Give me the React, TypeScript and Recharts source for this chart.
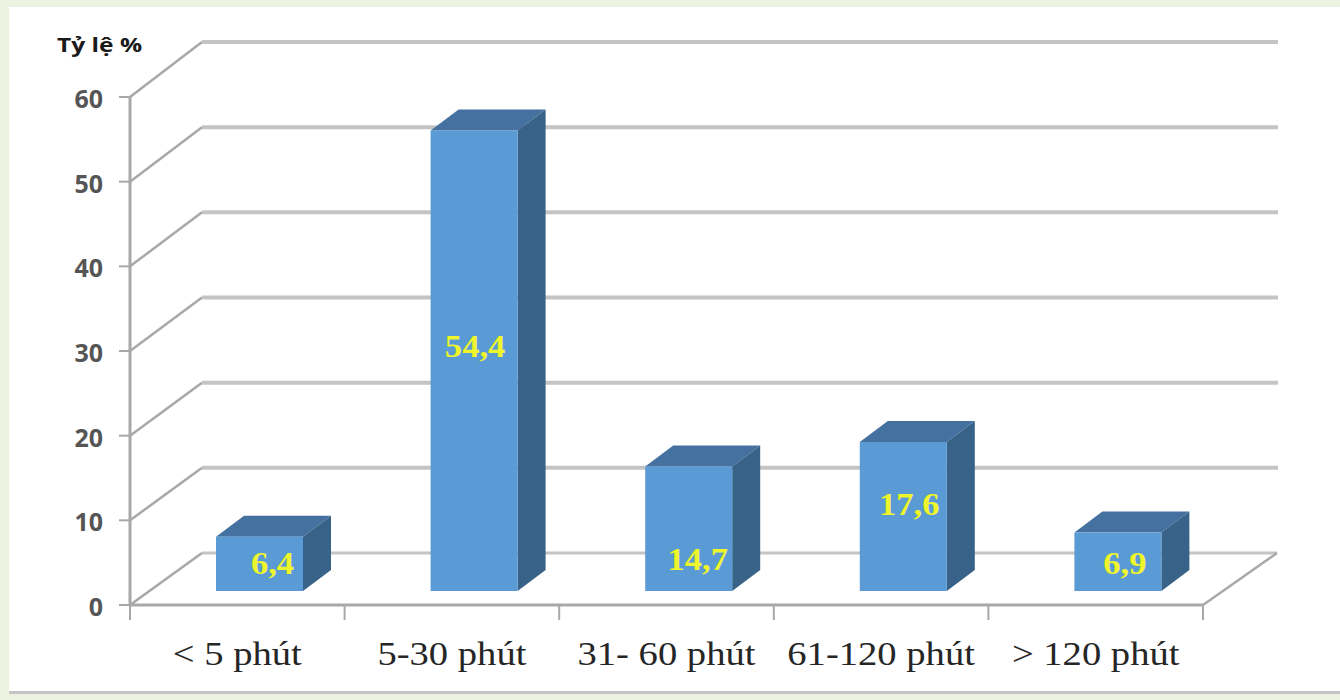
import { BarChart, Bar, CartesianGrid, LabelList, XAxis, YAxis } from 'recharts';

const categories = ['< 5 phút', '5-30 phút', '31- 60 phút', '61-120 phút', '> 120 phút'];
const shares = [6.4, 54.4, 14.7, 17.6, 6.9];
const yTicks = [0, 10, 20, 30, 40, 50, 60];

const rows = categories.map((name, i) => ({ name, share: shares[i] }));

// the labels were hand-placed on the bars, so each one has its own nudge
const labelNudge = [
    { dx: 13, dy: -1 },
    { dx: 1, dy: -15 },
    { dx: 9, dy: 30 },
    { dx: 6, dy: -13 },
    { dx: 7, dy: 1 },
];

const WIDTH = 1340;
const HEIGHT = 700;
const LEFT = 130;
const RIGHT = 1203;
const TOP = 97;
const BOTTOM = 605;
const BAND = (RIGHT - LEFT) / categories.length;

// fake perspective: back wall offset, and the box depth
const WALL_DX = 72;
const WALL_DY = -55;
const WALL_STRETCH = 3 / (BOTTOM - TOP);
const DEPTH_DX = 28;
const DEPTH_DY = -21;
// bars stand partway into the floor
const FLOOR_DX = 22;
const FLOOR_DY = -14;

const GRID = '#c4c4c4';
const AXIS = '#a8a8a8';
const SERIF = 'Liberation Serif';
const SANS = 'Open Sans';

const WallLine = (props: any) => {
    const { x1, x2, y1 } = props;
    const y = y1 + WALL_DY + (y1 - TOP) * WALL_STRETCH;
    const isFloor = Math.abs(y1 - BOTTOM) < 1;
    return (
        <g key={props.key}>
            <line x1={x1} y1={y1} x2={x1 + WALL_DX} y2={y} stroke={AXIS} strokeWidth={2.5} />
            <line x1={x1 + WALL_DX} y1={y} x2={x2 + WALL_DX + (isFloor ? 2 : 3)} y2={y} stroke={GRID} strokeWidth={isFloor ? 3 : 4} />
            {isFloor && <line x1={x2} y1={y1} x2={x2 + WALL_DX + 2} y2={y} stroke={AXIS} strokeWidth={2.5} />}
        </g>
    );
};

const Box = (props: any) => {
    const { x, y, width, height } = props;
    const l = x + FLOOR_DX;
    const r = l + width;
    const t = y + FLOOR_DY;
    const b = t + height;
    return (
        <g>
            <polygon points={`${l},${t} ${l + DEPTH_DX},${t + DEPTH_DY} ${r + DEPTH_DX},${t + DEPTH_DY} ${r},${t}`} fill="#44719f" />
            <polygon points={`${r},${t} ${r + DEPTH_DX},${t + DEPTH_DY} ${r + DEPTH_DX},${b + DEPTH_DY} ${r},${b}`} fill="#386288" />
            <rect x={l} y={t} width={width} height={height} fill="#5b9bd5" />
        </g>
    );
};

const ValueLabel = (props: any) => {
    const { x, y, width, height, value, index } = props;
    const nudge = labelNudge[index];
    const cx = x + FLOOR_DX + width / 2 + nudge.dx;
    const cy = y + FLOOR_DY + height / 2 + nudge.dy;
    return (
        <text
            transform={`translate(${cx},${cy}) scale(1.08,1)`}
            textAnchor="middle"
            dominantBaseline="central"
            fontFamily={SERIF}
            fontWeight="bold"
            fontSize={32}
            fill="#eef52c"
        >
            {String(value).replace('.', ',')}
        </text>
    );
};

const CategoryTick = (props: any) => {
    const { x, payload, index } = props;
    const last = index === categories.length - 1;
    return (
        <g>
            <line x1={x - BAND / 2} y1={BOTTOM} x2={x - BAND / 2} y2={BOTTOM + 15} stroke={AXIS} strokeWidth={2} />
            {last && <line x1={x + BAND / 2} y1={BOTTOM} x2={x + BAND / 2} y2={BOTTOM + 15} stroke={AXIS} strokeWidth={2} />}
            <text
                transform={`translate(${x},665) scale(1.17,1)`}
                textAnchor="middle"
                fontFamily={SERIF}
                fontSize={33}
                fill="#262626"
            >
                {payload.value}
            </text>
        </g>
    );
};

export default function App() {
    return (
        <div style={{ position: 'fixed', left: 0, top: 0, width: WIDTH, height: HEIGHT, background: '#eef2e1', overflow: 'hidden' }}>
            <div style={{ position: 'absolute', left: 9, top: 7, right: 0, height: 684, background: '#fff', borderBottom: '3px solid #c4c4c4' }} />
            <div style={{ position: 'absolute', left: 0, top: 0 }}>
                <BarChart
                    width={WIDTH}
                    height={HEIGHT}
                    data={rows}
                    margin={{ left: LEFT - 60, right: WIDTH - RIGHT, top: TOP, bottom: 0 }}
                >
                    <CartesianGrid vertical={false} horizontal={WallLine} />
                    <XAxis
                        dataKey="name"
                        height={HEIGHT - BOTTOM}
                        axisLine={{ stroke: AXIS, strokeWidth: 3 }}
                        tickLine={false}
                        tick={CategoryTick}
                        interval={0}
                    />
                    <YAxis
                        width={60}
                        domain={[0, 60]}
                        ticks={yTicks}
                        axisLine={{ stroke: AXIS, strokeWidth: 3 }}
                        tickLine={{ stroke: AXIS, strokeWidth: 2 }}
                        tickSize={11}
                        tickMargin={16}
                        tick={{ fontFamily: SANS, fontWeight: 700, fontSize: 25, fill: '#555555', dy: 2 }}
                    />
                    <Bar dataKey="share" barSize={87} shape={Box} isAnimationActive={false}>
                        <LabelList dataKey="share" content={ValueLabel} />
                    </Bar>
                    <text transform="translate(57,52) scale(1.23,1)" fontFamily={SANS} fontWeight="bold" fontSize={20} fill="#1a1a1a">
                        Tỷ lệ %
                    </text>
                </BarChart>
            </div>
        </div>
    );
}
